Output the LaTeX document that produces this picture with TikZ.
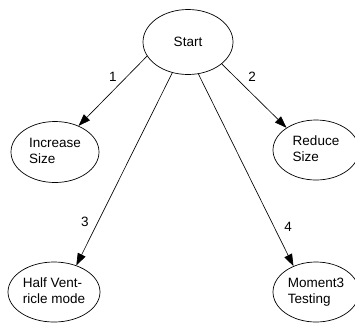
\documentclass[tikz,border=0pt]{standalone}
\usepackage{fontspec}
\setmainfont{Liberation Sans}
\usetikzlibrary{shapes.geometric, arrows.meta}

% left-aligned multi-line label that does not widen its ellipse
\newcommand{\eltext}[1]{\makebox[0pt]{\begin{tabular}{@{}l@{}}#1\end{tabular}}}

\tikzset{
  state/.style={draw=black, line width=0.7pt, ellipse, inner sep=0pt,
    font=\fontsize{13.5}{16.5}\selectfont},
  trans/.style={draw=black, line width=0.65pt,
    -{Triangle[length=12pt, width=8.5pt]}},
  num/.style={font=\fontsize{13.5}{15}\selectfont, inner sep=0pt},
}

\begin{document}
\begin{tikzpicture}[x=1pt, y=-1pt]
  \useasboundingbox (0,0) rectangle (355,322);

  % states
  \node[state, minimum width=90pt, minimum height=65pt] (start) at (188,42) {Start};
  \node[state, minimum width=88pt, minimum height=61pt] (inc)   at (55,152) {\eltext{Increase\\Size}};
  \node[state, minimum width=86pt, minimum height=60pt] (red)   at (316,150) {\eltext{Reduce\\Size}};
  \node[state, minimum width=92pt, minimum height=60pt] (half)  at (54,292) {\eltext{Half Vent-\\ricle mode}};
  \node[state, minimum width=86pt, minimum height=60pt] (mom)   at (316,292) {\eltext{Moment3\\Testing}};

  % transitions out of the start state
  \draw[trans] (start.199) -- (inc.48);
  \draw[trans] (start.327) -- (red.143);
  \draw[trans] (start.243) -- (half.50);
  \draw[trans] (start.288) -- (mom.131);

  % transition numbers
  \node[num] (n1) at (113,77)  {1};
  \node[num] (n2) at (252,77)  {2};
  \node[num] (n3) at (85,222)  {3};
  \node[num] (n4) at (288,227) {4};
\end{tikzpicture}
\end{document}
